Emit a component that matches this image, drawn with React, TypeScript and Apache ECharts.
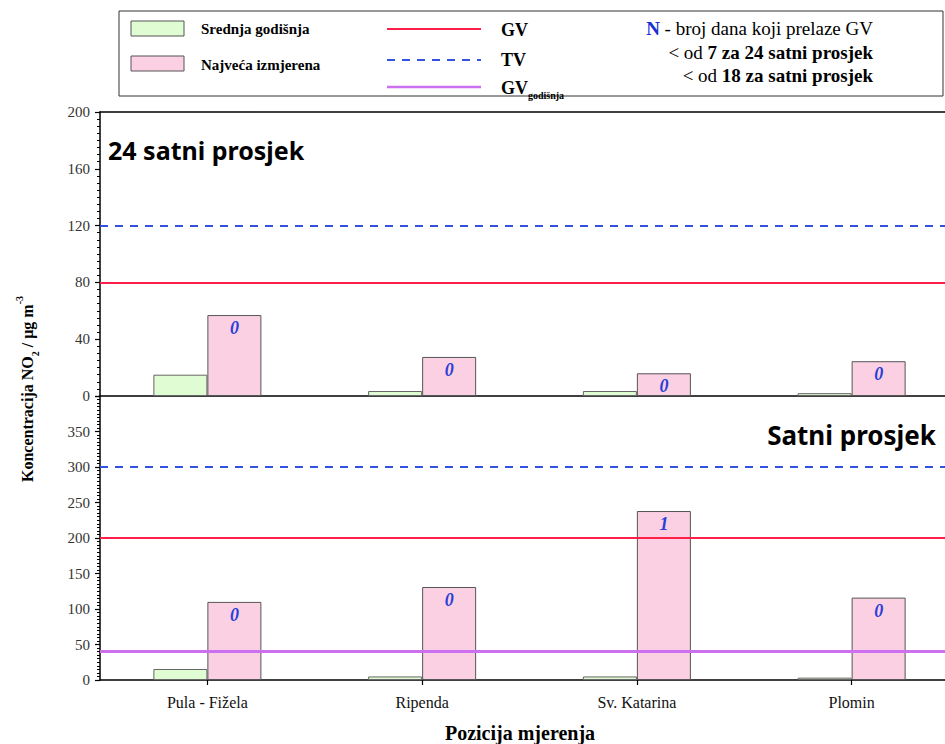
import React, { useEffect, useRef } from "react";
import * as echarts from "echarts";

const categories = ["Pula - Fižela", "Ripenda", "Sv. Katarina", "Plomin"];
const annualMean24h = [15, 3.5, 3.5, 2];
const max24h = [57, 27.5, 16, 24.5];
const exceed24h = [0, 0, 0, 0];
const annualMean1h = [15.5, 5, 5, 3.3];
const max1h = [110, 131, 238, 116];
const exceed1h = [0, 0, 1, 0];
const gv24h = [80];
const tv24h = [120];
const gv1h = [200];
const tv1h = [300];
const gvAnnual = [40];

const GREEN = "#dffcd2";
const PINK = "#fbd0e3";
const RED = "#ff1f48";
const BLUE = "#3352dd";
const VIOLET = "#cc70f0";
const SERIF = "Liberation Serif, Times New Roman, serif";
const COMIC = "Comic Sans MS, Noto Sans, sans-serif";

function limitLines(gv: number[], tv: number[], annual: number[]) {
  const data: any[] = [];
  gv.forEach((v) => data.push({ yAxis: v, lineStyle: { color: RED, width: 2, type: "solid" } }));
  tv.forEach((v) => data.push({ yAxis: v, lineStyle: { color: BLUE, width: 2, type: [8, 7] } }));
  annual.forEach((v) => data.push({ yAxis: v, lineStyle: { color: VIOLET, width: 3, type: "solid" } }));
  return {
    silent: true,
    symbol: ["none", "none"],
    label: { show: false },
    emphasis: { disabled: true },
    data,
  };
}

function yAxisCfg(gridIndex: number, max: number, interval: number, minorSplit: number, showMax: boolean) {
  return {
    type: "value",
    gridIndex,
    min: 0,
    max,
    interval,
    splitLine: { show: false },
    axisLine: { show: true, lineStyle: { color: "#000", width: 1.5 } },
    axisTick: { show: true, inside: false, length: 5, lineStyle: { color: "#000", width: 1.2 } },
    minorTick: { show: true, splitNumber: minorSplit, length: 3, lineStyle: { color: "#000", width: 1 } },
    axisLabel: {
      show: true,
      showMaxLabel: showMax,
      margin: 10,
      color: "#333",
      fontFamily: SERIF,
      fontSize: 15,
    },
  };
}

export default function App() {
  const ref = useRef<HTMLDivElement>(null);
  useEffect(() => {
    if (!ref.current) return;
    const chart = echarts.init(ref.current, null, { renderer: "svg" });
    const nLabel = (arr: number[]) => ({
      show: true,
      position: "insideTop",
      distance: 4,
      formatter: (p: any) => String(arr[p.dataIndex]),
      color: "#2b3fd6",
      fontFamily: SERIF,
      fontStyle: "italic",
      fontWeight: "bold",
      fontSize: 18,
    });
    const barBase = {
      type: "bar",
      barWidth: 54,
      barGap: "0%",
      emphasis: { disabled: true },
    };
    const option: any = {
      animation: false,
      backgroundColor: "#fff",
      grid: [
        { left: 100, top: 112, width: 859, height: 284, show: false },
        { left: 100, top: 396, width: 859, height: 284, show: false },
      ],
      xAxis: [
        {
          type: "category",
          gridIndex: 0,
          data: categories,
          axisLine: { show: true, lineStyle: { color: "#000", width: 1.5 } },
          axisTick: { show: false },
          axisLabel: { show: false },
        },
        {
          type: "category",
          gridIndex: 1,
          data: categories,
          axisLine: { show: true, lineStyle: { color: "#000", width: 1.5 } },
          axisTick: { show: true, alignWithLabel: true, length: 5, lineStyle: { color: "#000", width: 1.2 } },
          axisLabel: { show: true, margin: 14, color: "#111", fontFamily: SERIF, fontSize: 16 },
        },
        {
          type: "category",
          gridIndex: 0,
          position: "top",
          data: categories,
          axisLine: { show: true, onZero: false, lineStyle: { color: "#000", width: 1.5 } },
          axisTick: { show: false },
          axisLabel: { show: false },
        },
      ],
      yAxis: [yAxisCfg(0, 200, 40, 8, true), yAxisCfg(1, 400, 50, 10, false)],
      series: [
        {
          ...barBase,
          name: "Srednja godišnja",
          xAxisIndex: 0,
          yAxisIndex: 0,
          data: annualMean24h,
          itemStyle: { color: GREEN, borderColor: "#666", borderWidth: 1 },
        },
        {
          ...barBase,
          name: "Najveća izmjerena",
          xAxisIndex: 0,
          yAxisIndex: 0,
          data: max24h,
          itemStyle: { color: PINK, borderColor: "#555", borderWidth: 1 },
          label: nLabel(exceed24h),
          markLine: limitLines(gv24h, tv24h, []),
        },
        {
          ...barBase,
          name: "Srednja godišnja",
          xAxisIndex: 1,
          yAxisIndex: 1,
          data: annualMean1h,
          itemStyle: { color: GREEN, borderColor: "#666", borderWidth: 1 },
        },
        {
          ...barBase,
          name: "Najveća izmjerena",
          xAxisIndex: 1,
          yAxisIndex: 1,
          data: max1h,
          itemStyle: { color: PINK, borderColor: "#555", borderWidth: 1 },
          label: nLabel(exceed1h),
          markLine: limitLines(gv1h, tv1h, gvAnnual),
        },
      ],
      graphic: [
        // legend box
        { type: "rect", z: 10, shape: { x: 119, y: 11, width: 824, height: 85 }, style: { fill: "#fff", stroke: "#333", lineWidth: 1 } },
        { type: "rect", z: 11, shape: { x: 131, y: 21, width: 53, height: 15 }, style: { fill: GREEN, stroke: "#555", lineWidth: 1 } },
        { type: "rect", z: 11, shape: { x: 131, y: 56, width: 53, height: 15 }, style: { fill: PINK, stroke: "#555", lineWidth: 1 } },
        { type: "text", z: 11, x: 201, y: 29, style: { text: "Srednja godišnja", font: `bold 15px ${SERIF}`, fill: "#000", verticalAlign: "middle" } },
        { type: "text", z: 11, x: 201, y: 65, style: { text: "Najveća izmjerena", font: `bold 15px ${SERIF}`, fill: "#000", verticalAlign: "middle" } },
        { type: "line", z: 11, shape: { x1: 387, y1: 29, x2: 481, y2: 29 }, style: { stroke: RED, lineWidth: 2 } },
        { type: "line", z: 11, shape: { x1: 387, y1: 60, x2: 481, y2: 60 }, style: { stroke: BLUE, lineWidth: 2, lineDash: [8, 7] } },
        { type: "line", z: 11, shape: { x1: 387, y1: 87, x2: 481, y2: 87 }, style: { stroke: VIOLET, lineWidth: 2.5 } },
        { type: "text", z: 11, x: 501, y: 30, style: { text: "GV", font: `bold 18px ${SERIF}`, fill: "#000", verticalAlign: "middle" } },
        { type: "text", z: 11, x: 501, y: 60, style: { text: "TV", font: `bold 18px ${SERIF}`, fill: "#000", verticalAlign: "middle" } },
        {
          type: "text",
          z: 11,
          x: 501,
          y: 88,
          style: {
            text: "{b|GV}{s|godišnja}",
            verticalAlign: "middle",
            rich: {
              b: { font: `bold 18px ${SERIF}`, fill: "#000", lineHeight: 24, verticalAlign: "middle" },
              s: { font: `bold 10px ${SERIF}`, fill: "#000", verticalAlign: "bottom", lineHeight: 10 },
            },
          },
        },
        {
          type: "text",
          z: 11,
          x: 873,
          y: 28,
          style: {
            text: "{n|N}{r| - broj dana koji prelaze GV}",
            align: "right",
            verticalAlign: "middle",
            rich: {
              n: { font: `bold 19px ${SERIF}`, fill: "#1a2fd0" },
              r: { font: `19px ${SERIF}`, fill: "#000" },
            },
          },
        },
        {
          type: "text",
          z: 11,
          x: 873,
          y: 52,
          style: {
            text: "{r|< od }{b|7 za 24 satni prosjek}",
            align: "right",
            verticalAlign: "middle",
            rich: {
              r: { font: `19px ${SERIF}`, fill: "#000" },
              b: { font: `bold 19px ${SERIF}`, fill: "#000" },
            },
          },
        },
        {
          type: "text",
          z: 11,
          x: 873,
          y: 75,
          style: {
            text: "{r|< od }{b|18 za satni prosjek}",
            align: "right",
            verticalAlign: "middle",
            rich: {
              r: { font: `19px ${SERIF}`, fill: "#000" },
              b: { font: `bold 19px ${SERIF}`, fill: "#000" },
            },
          },
        },
        // panel titles
        { type: "text", z: 11, x: 108, y: 150, style: { text: "24 satni prosjek", font: `bold 25px ${COMIC}`, fill: "#000", verticalAlign: "middle" } },
        { type: "text", z: 11, x: 936, y: 435, style: { text: "Satni prosjek", font: `bold 26px ${COMIC}`, fill: "#000", align: "right", verticalAlign: "middle" } },
        // axis names
        {
          type: "text",
          z: 11,
          x: 27,
          y: 389,
          rotation: Math.PI / 2,
          style: {
            text: "{a|Koncentracija NO}{s|2}{a| / µg m}{p|-3}",
            align: "center",
            verticalAlign: "middle",
            rich: {
              a: { font: `bold 16px ${SERIF}`, fill: "#000", lineHeight: 26, verticalAlign: "middle" },
              s: { font: `bold 10px ${SERIF}`, fill: "#000", verticalAlign: "bottom", lineHeight: 11 },
              p: { font: `bold 10px ${SERIF}`, fill: "#000", verticalAlign: "top", lineHeight: 11 },
            },
          },
        },
        { type: "text", z: 11, x: 520, y: 733, style: { text: "Pozicija mjerenja", font: `bold 20px ${SERIF}`, fill: "#000", align: "center", verticalAlign: "middle" } },
      ],
    };
    chart.setOption(option);
    return () => chart.dispose();
  }, []);
  return (
    <div style={{ position: "fixed", left: 0, top: 0, width: 945, height: 744, overflow: "hidden", background: "#fff" }}>
      <div ref={ref} style={{ width: 1000, height: 744 }} />
    </div>
  );
}
